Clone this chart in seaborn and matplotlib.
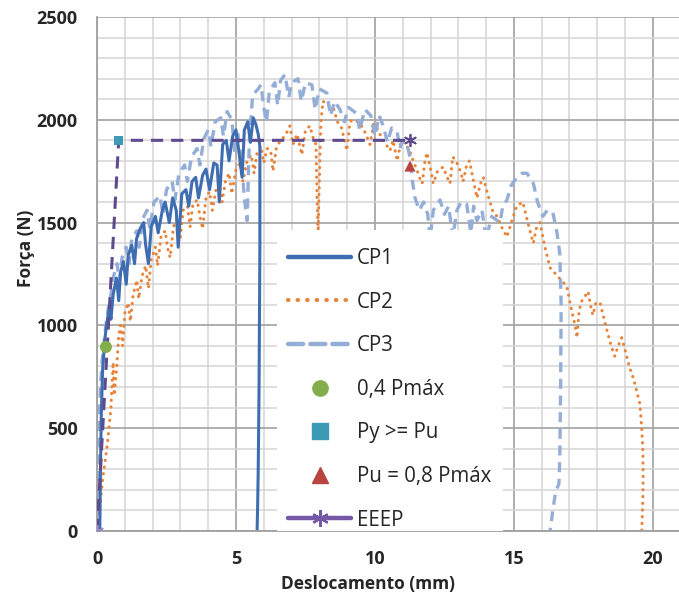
import matplotlib
matplotlib.use("Agg")
import matplotlib.pyplot as plt
import numpy as np
import pandas as pd
import seaborn as sns
from matplotlib.lines import Line2D
from matplotlib.patches import Rectangle
from matplotlib.ticker import MultipleLocator

# ---------------- data ----------------
cp1_pts = [(0.10, 0), (0.12, 250), (0.15, 550), (0.20, 780), (0.28, 930), (0.35, 1010),
           (0.45, 1090), (0.50, 1030), (0.58, 1150), (0.70, 1230), (0.78, 1120), (0.85, 1260),
           (0.95, 1310), (1.05, 1200), (1.12, 1340), (1.25, 1390), (1.35, 1300), (1.42, 1420),
           (1.55, 1470), (1.68, 1500), (1.75, 1390), (1.85, 1300), (1.95, 1480), (2.10, 1530),
           (2.20, 1450), (2.35, 1560), (2.45, 1600), (2.60, 1500), (2.72, 1620), (2.85, 1560),
           (2.92, 1380), (3.05, 1640), (3.20, 1660), (3.30, 1580), (3.42, 1700), (3.55, 1720),
           (3.65, 1620), (3.80, 1730), (3.92, 1760), (4.05, 1660), (4.20, 1790), (4.32, 1780),
           (4.40, 1600), (4.52, 1880), (4.65, 1900), (4.75, 1800), (4.88, 1920), (5.00, 1950),
           (5.10, 1850), (5.22, 1720), (5.30, 1950), (5.42, 1990), (5.52, 1890), (5.62, 2010),
           (5.72, 1975), (5.80, 1930), (5.86, 1870), (5.86, 1400), (5.83, 700), (5.80, 300),
           (5.78, 130), (5.76, 0)]

cp2_pts = [(0.05, 50), (0.20, 250), (0.38, 430), (0.50, 600), (0.58, 820), (0.62, 660),
           (0.70, 780), (0.78, 950), (0.85, 1000), (0.92, 900), (1.00, 1060), (1.12, 1110),
           (1.20, 1020), (1.30, 1150), (1.43, 1220), (1.50, 1130), (1.62, 1240), (1.75, 1290),
           (1.85, 1180), (1.95, 1320), (2.10, 1380), (2.18, 1290), (2.30, 1430), (2.45, 1460),
           (2.55, 1370), (2.63, 1330), (2.75, 1480), (2.90, 1520), (3.00, 1430), (3.10, 1560),
           (3.25, 1580), (3.35, 1480), (3.45, 1590), (3.60, 1610), (3.72, 1520), (3.80, 1470),
           (3.92, 1620), (4.05, 1650), (4.15, 1560), (4.28, 1660), (4.40, 1690), (4.50, 1600),
           (4.62, 1700), (4.75, 1740), (4.85, 1640), (5.00, 1760), (5.15, 1790), (5.25, 1700),
           (5.40, 1800), (5.55, 1830), (5.65, 1740), (5.76, 1840), (5.90, 1870), (6.00, 1790),
           (6.12, 1860), (6.25, 1850), (6.33, 1750), (6.45, 1860), (6.60, 1900), (6.76, 1920),
           (6.94, 1970), (7.05, 1880), (7.20, 1930), (7.37, 1830), (7.50, 1950), (7.66, 1970),
           (7.80, 1900), (7.88, 1880), (7.92, 1600), (7.95, 1450), (8.00, 1700), (8.05, 1980),
           (8.13, 2090), (8.30, 2070), (8.50, 2060), (8.65, 1990), (8.80, 1960), (8.99, 1850),
           (9.10, 1990), (9.20, 2000), (9.40, 1990), (9.57, 1960), (9.70, 1920), (9.82, 1880),
           (9.95, 1980), (10.07, 1960), (10.25, 1910), (10.40, 1880), (10.54, 1850), (10.65, 1900),
           (10.80, 1800), (10.95, 1900), (11.10, 1880), (11.25, 1850), (11.40, 1790), (11.50, 1760),
           (11.60, 1720), (11.70, 1690), (11.80, 1800), (11.87, 1840), (12.00, 1760), (12.10, 1690),
           (12.25, 1750), (12.45, 1770), (12.60, 1720), (12.70, 1690), (12.80, 1820), (12.95, 1790),
           (13.10, 1740), (13.17, 1700), (13.30, 1780), (13.40, 1800), (13.55, 1700), (13.67, 1620),
           (13.80, 1690), (13.90, 1720), (14.05, 1640), (14.25, 1550), (14.40, 1530), (14.55, 1480),
           (14.75, 1430), (14.95, 1520), (15.10, 1580), (15.32, 1600), (15.50, 1500), (15.70, 1400),
           (15.80, 1470), (15.94, 1500), (16.10, 1390), (16.30, 1280), (16.50, 1250), (16.70, 1220),
           (16.90, 1190), (17.05, 1090), (17.20, 1000), (17.27, 940), (17.33, 1050), (17.40, 1110),
           (17.55, 1140), (17.67, 1165), (17.75, 1100), (17.84, 1050), (17.95, 1110), (18.10, 1110),
           (18.30, 1000), (18.50, 900), (18.63, 850), (18.75, 900), (18.88, 940), (19.00, 880),
           (19.15, 800), (19.28, 750), (19.40, 690), (19.53, 620), (19.60, 500), (19.64, 390),
           (19.65, 250), (19.64, 160), (19.62, 80), (19.60, 0)]

cp3_pts = [(0.02, 0), (0.05, 300), (0.08, 550), (0.12, 700), (0.20, 850), (0.30, 980),
           (0.40, 1080), (0.50, 1150), (0.60, 1240), (0.72, 1300), (0.80, 1220), (0.90, 1330),
           (1.05, 1380), (1.15, 1300), (1.25, 1420), (1.43, 1460), (1.52, 1380), (1.65, 1520),
           (1.80, 1560), (1.90, 1470), (2.05, 1600), (2.27, 1630), (2.37, 1540), (2.50, 1660),
           (2.70, 1700), (2.80, 1610), (2.95, 1740), (3.15, 1780), (3.25, 1700), (3.40, 1820),
           (3.60, 1860), (3.70, 1780), (3.85, 1910), (4.00, 1950), (4.10, 1870), (4.25, 1990),
           (4.45, 2010), (4.55, 1920), (4.68, 2040), (4.85, 2000), (4.95, 1850), (5.05, 1950),
           (5.20, 1800), (5.30, 1620), (5.40, 1510), (5.48, 1900), (5.60, 2120), (5.80, 2150),
           (5.90, 2170), (6.00, 2060), (6.10, 1990), (6.20, 2140), (6.40, 2180), (6.50, 2070),
           (6.60, 2190), (6.76, 2220), (6.90, 2110), (7.00, 2180), (7.23, 2200), (7.35, 2090),
           (7.50, 2180), (7.73, 2170), (7.85, 2050), (8.00, 2150), (8.27, 2130), (8.40, 2020),
           (8.55, 2090), (8.74, 2050), (8.90, 1990), (9.05, 2060), (9.35, 2030), (9.45, 1950),
           (9.64, 2050), (9.85, 2020), (10.00, 1920), (10.15, 2020), (10.30, 1970), (10.45, 1890),
           (10.60, 1960), (10.80, 1940), (10.90, 1860), (11.00, 1900), (11.15, 1880), (11.26, 1820),
           (11.35, 1700), (11.44, 1620), (11.60, 1560), (11.75, 1600), (11.90, 1540), (11.98, 1420),
           (12.10, 1560), (12.34, 1610), (12.50, 1540), (12.65, 1580), (12.80, 1430), (12.95, 1560),
           (13.10, 1600), (13.30, 1590), (13.45, 1450), (13.55, 1580), (13.67, 1510), (13.85, 1560),
           (14.00, 1420), (14.20, 1530), (14.50, 1500), (14.60, 1580), (14.75, 1610), (14.90, 1680),
           (15.10, 1720), (15.30, 1740), (15.47, 1740), (15.60, 1710), (15.70, 1690), (15.85, 1600),
           (16.04, 1530), (16.20, 1560), (16.40, 1550), (16.55, 1450), (16.65, 1350), (16.70, 1100),
           (16.68, 700), (16.65, 350), (16.62, 230), (16.50, 190), (16.40, 100), (16.30, 0)]

eeep_x = [0.0, 0.78, 11.26]
eeep_y = [0, 1900, 1900]
p04_x, p04_y = [0.32], [895]          # 0,4 Pmax
py_x, py_y = [0.78], [1900]           # Py >= Pu
pu_x, pu_y = [11.26], [1775]          # Pu = 0,8 Pmax

legend_labels = ["CP1", "CP2", "CP3", "0,4 Pmáx", "Py >= Pu", "Pu = 0,8 Pmáx", "EEEP"]
x_label = "Deslocamento (mm)"
y_label = "Força (N)"

# ---------------- style ----------------
sns.set_style("white")
plt.rcParams['font.family'] = ['Open Sans', 'DejaVu Sans']

C_CP1 = "#3F6DB2"
C_CP2 = "#E8843A"
C_CP3 = "#94AED8"
C_GREEN = "#84AD4C"
C_TEAL = "#3D9BB5"
C_RED = "#B94541"
C_PURP = "#5E4A8E"
C_PURP_L = "#7458A6"

fig = plt.figure(figsize=(6.79, 5.95), dpi=100)
ax = fig.add_axes([0.1429, 0.1076, 0.8571, 0.8639])

df1 = pd.DataFrame(cp1_pts, columns=["x", "y"])
df2 = pd.DataFrame(cp2_pts, columns=["x", "y"])
df3 = pd.DataFrame(cp3_pts, columns=["x", "y"])

sns.lineplot(data=df2, x="x", y="y", sort=False, estimator=None, ax=ax, color=C_CP2,
             lw=2.2, linestyle=(0, (0.1, 2.1)), dash_capstyle="round", zorder=2)
sns.lineplot(data=df3, x="x", y="y", sort=False, estimator=None, ax=ax, color=C_CP3,
             lw=2.4, linestyle=(0, (3.0, 2.0)), zorder=2.1)
sns.lineplot(data=df1, x="x", y="y", sort=False, estimator=None, ax=ax, color=C_CP1,
             lw=2.2, zorder=2.2)
sns.lineplot(x=eeep_x, y=eeep_y, sort=False, estimator=None, ax=ax, color=C_PURP,
             lw=2.2, linestyle=(0, (4.0, 2.6)), zorder=3)

ax.scatter([eeep_x[0]], [eeep_y[0]], marker=(6, 2, 0), s=70, color="#9C88C4", lw=1.3, zorder=4)
ax.scatter([eeep_x[-1]], [eeep_y[-1]], marker=(6, 2, 0), s=70, color=C_PURP, lw=1.3, zorder=4)
sns.scatterplot(x=p04_x, y=p04_y, ax=ax, marker="o", s=75, color=C_GREEN, edgecolor="none", zorder=4)
sns.scatterplot(x=py_x, y=py_y, ax=ax, marker="s", s=45, color=C_TEAL, edgecolor="none", zorder=4)
sns.scatterplot(x=pu_x, y=pu_y, ax=ax, marker="^", s=65, color=C_RED, edgecolor="none", zorder=4)

# ---------------- axes ----------------
ax.set_xlim(0, 20.94)
ax.set_ylim(0, 2500)
ax.xaxis.set_major_locator(MultipleLocator(5))
ax.xaxis.set_minor_locator(MultipleLocator(1))
ax.yaxis.set_major_locator(MultipleLocator(500))
ax.yaxis.set_minor_locator(MultipleLocator(100))
ax.grid(which="minor", color="#D4D4D4", lw=1.1, zorder=0)
ax.grid(which="major", color="#A8A8A8", lw=1.3, zorder=0)
ax.set_axisbelow(True)
ax.tick_params(which="both", length=0)
ax.tick_params(axis="y", pad=14)
ax.tick_params(axis="x", pad=14)
for lab in ax.get_xticklabels() + ax.get_yticklabels():
    lab.set_fontweight("bold")
    lab.set_fontsize(13)
for s in ["top", "right"]:
    ax.spines[s].set_visible(False)
for s in ["left", "bottom"]:
    ax.spines[s].set_color("#A0A0A0")
    ax.spines[s].set_linewidth(1.3)

ax.set_xlabel(x_label, fontsize=12.5, fontweight="bold")
ax.set_ylabel(y_label, fontsize=12.5, fontweight="bold")
ax.xaxis.set_label_coords(0.465, -0.085)
ax.yaxis.set_label_coords(-0.107, 0.55)

# white legend panel
ax.add_patch(Rectangle((0.309, 0.0), 0.388, 0.586, transform=ax.transAxes,
                       facecolor="white", edgecolor="none", zorder=4.5))

handles = [
    Line2D([], [], color=C_CP1, lw=3.2, solid_capstyle="round"),
    Line2D([], [], color=C_CP2, lw=3.0, linestyle=(0, (0.1, 2.2)), dash_capstyle="round"),
    Line2D([], [], color=C_CP3, lw=3.2, linestyle=(0, (3.4, 1.6)), dash_capstyle="round"),
    Line2D([], [], color=C_GREEN, marker="o", ms=11, lw=0),
    Line2D([], [], color=C_TEAL, marker="s", ms=11, lw=0),
    Line2D([], [], color=C_RED, marker="^", ms=12, lw=0),
    Line2D([], [], color=C_PURP_L, lw=3.2, marker=(6, 2, 0), ms=12, mew=1.6,
           solid_capstyle="round"),
]
leg = ax.legend(handles, legend_labels, loc="upper left", bbox_to_anchor=(0.3276, 0.5506),
                frameon=False, fontsize=14.8, handlelength=3.1, handletextpad=0.25,
                labelspacing=1.10, borderpad=0, borderaxespad=0, numpoints=1)
leg.set_zorder(6)

fig.savefig("out.png", dpi=100)
